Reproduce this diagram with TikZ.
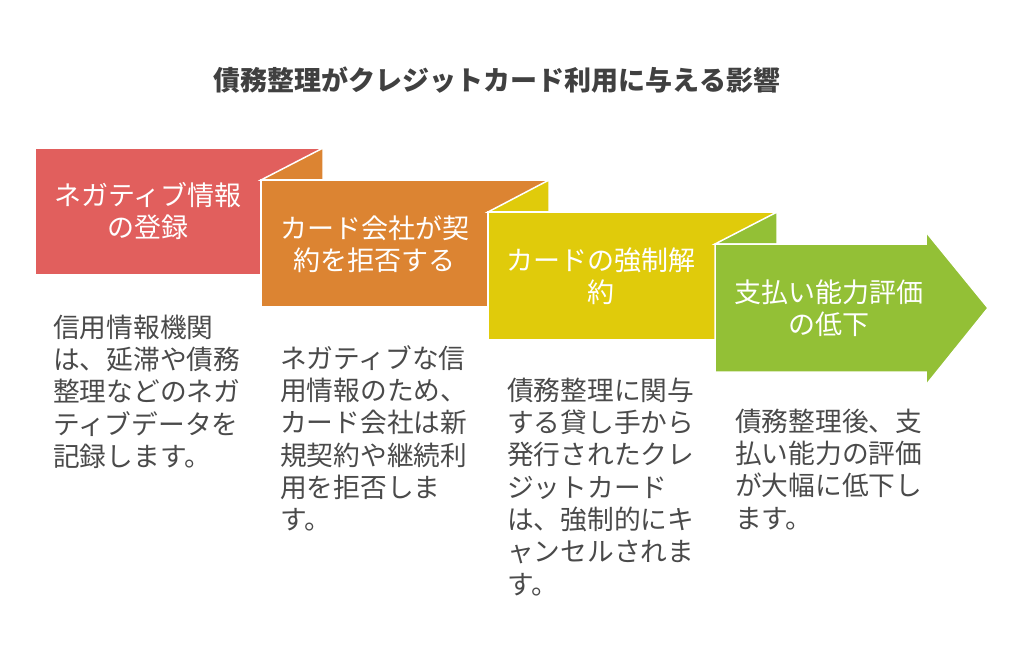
\documentclass[tikz,border=0pt]{standalone}
\usepackage{fontspec}
\newfontfamily\jpfont{Noto Sans CJK JP}
\definecolor{cred}{HTML}{E15F5D}
\definecolor{corange}{HTML}{DC8432}
\definecolor{cyellow}{HTML}{E0CB0B}
\definecolor{cgreen}{HTML}{93C036}
\definecolor{bodygray}{HTML}{4A4A4A}
\definecolor{titlegray}{HTML}{404040}
\newcommand\ls{\rule[-0.12em]{0pt}{1em}}
\begin{document}
\begin{tikzpicture}[x=1pt,y=-1pt]
\tikzset{
  blk/.style={draw=white, line width=1.5pt, line join=miter},
  lbl/.style={text=white, align=center, inner sep=0pt, font=\jpfont\fontsize{27}{32.3}\selectfont},
  bodytxt/.style={text=bodygray, align=left, anchor=north west, inner sep=0pt, font=\jpfont\fontsize{26.7}{32.3}\selectfont},
  ttl/.style={text=titlegray, inner sep=0pt, font=\jpfont\bfseries\fontsize{27}{32}\selectfont}
}
\useasboundingbox (0,0) rectangle (1024,667);
\fill[white] (0,0) rectangle (1024,667);

% step shapes
\filldraw[blk, fill=cred] (35,148) rectangle (323,275);
\filldraw[blk, fill=corange] (261,180) -- (323,148) -- (323,180) -- cycle;
\filldraw[blk, fill=corange] (261,180) rectangle (549,307);
\filldraw[blk, fill=cyellow] (488,212) -- (549,180) -- (549,212) -- cycle;
\filldraw[blk, fill=cyellow] (488,212) rectangle (777,340);
\filldraw[blk, fill=cgreen] (715,244) -- (777,212) -- (777,244) -- cycle;
\filldraw[blk, fill=cgreen] (715,244) -- (926,244) -- (926,232) -- (988,308) -- (926,385) -- (926,372) -- (715,372) -- cycle;

% title
\node[ttl] (title) at (497,80) {債務整理がクレジットカード利用に与える影響};

% labels
\node[lbl] (l1) at (148,211) {\ls ネガティブ情報\\\ls の登録};
\node[lbl] (l2) at (374.5,244) {\ls カード会社が契\\\ls 約を拒否する};
\node[lbl] (l3) at (601,276.5) {\ls カードの強制解\\\ls 約};
\node[lbl] (l4) at (829,308) {\ls 支払い能力評価\\\ls の低下};

% descriptions
\node[bodytxt] (d1) at (53,313.5) {\ls 信用情報機関\\\ls は、延滞や債務\\\ls 整理などのネガ\\\ls ティブデータを\\\ls 記録します。};
\node[bodytxt] (d2) at (280,344.5) {\ls ネガティブな信\\\ls 用情報のため、\\\ls カード会社は新\\\ls 規契約や継続利\\\ls 用を拒否しま\\\ls す。};
\node[bodytxt] (d3) at (507,376.5) {\ls 債務整理に関与\\\ls する貸し手から\\\ls 発行されたクレ\\\ls ジットカード\\\ls は、強制的にキ\\\ls ャンセルされま\\\ls す。};
\node[bodytxt] (d4) at (735,407.5) {\ls 債務整理後、支\\\ls 払い能力の評価\\\ls が大幅に低下し\\\ls ます。};
\end{tikzpicture}
\end{document}
